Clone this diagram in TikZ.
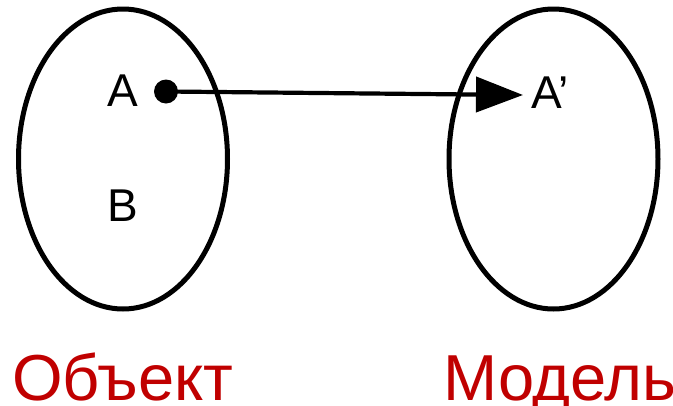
\documentclass[tikz,border=0pt]{standalone}
\usepackage{fontspec}
\setmainfont{Liberation Sans}
\usetikzlibrary{shapes.geometric,arrows.meta}
\definecolor{lblred}{RGB}{192,0,0}
\begin{document}
\begin{tikzpicture}[x=1pt,y=-1pt,
  setshape/.style={ellipse,draw=black,line width=5pt,minimum width=209pt,minimum height=300pt,inner sep=0pt},
  letter/.style={font=\fontsize{46}{50}\selectfont,inner sep=0pt},
  caption/.style={font=\fontsize{65}{70}\selectfont,text=lblred,inner sep=0pt,anchor=base west},
  pointdot/.style={circle,fill=black,minimum size=24pt,inner sep=0pt},
  maparrow/.style={line width=4.2pt,-{Triangle[length=47pt,width=35pt]}}]
\useasboundingbox (0,0) rectangle (673,405);
\node[setshape] (obj) at (123,159) {};
\node[setshape] (mod) at (553.5,159) {};
\node[letter] (a) at (123,91) {A};
\node[letter] (b) at (123,206) {B};
\node[pointdot] (dot) at (166,91.5) {};
\node[letter,anchor=base west] (ap) at (531,108) {A’};
\coordinate (tip) at (523,95);
\draw[maparrow] (dot.center) -- (tip);
\node[caption] (objlbl) at (12,400) {Объект};
\node[caption] (modlbl) at (443,400) {Модель};
\end{tikzpicture}
\end{document}
